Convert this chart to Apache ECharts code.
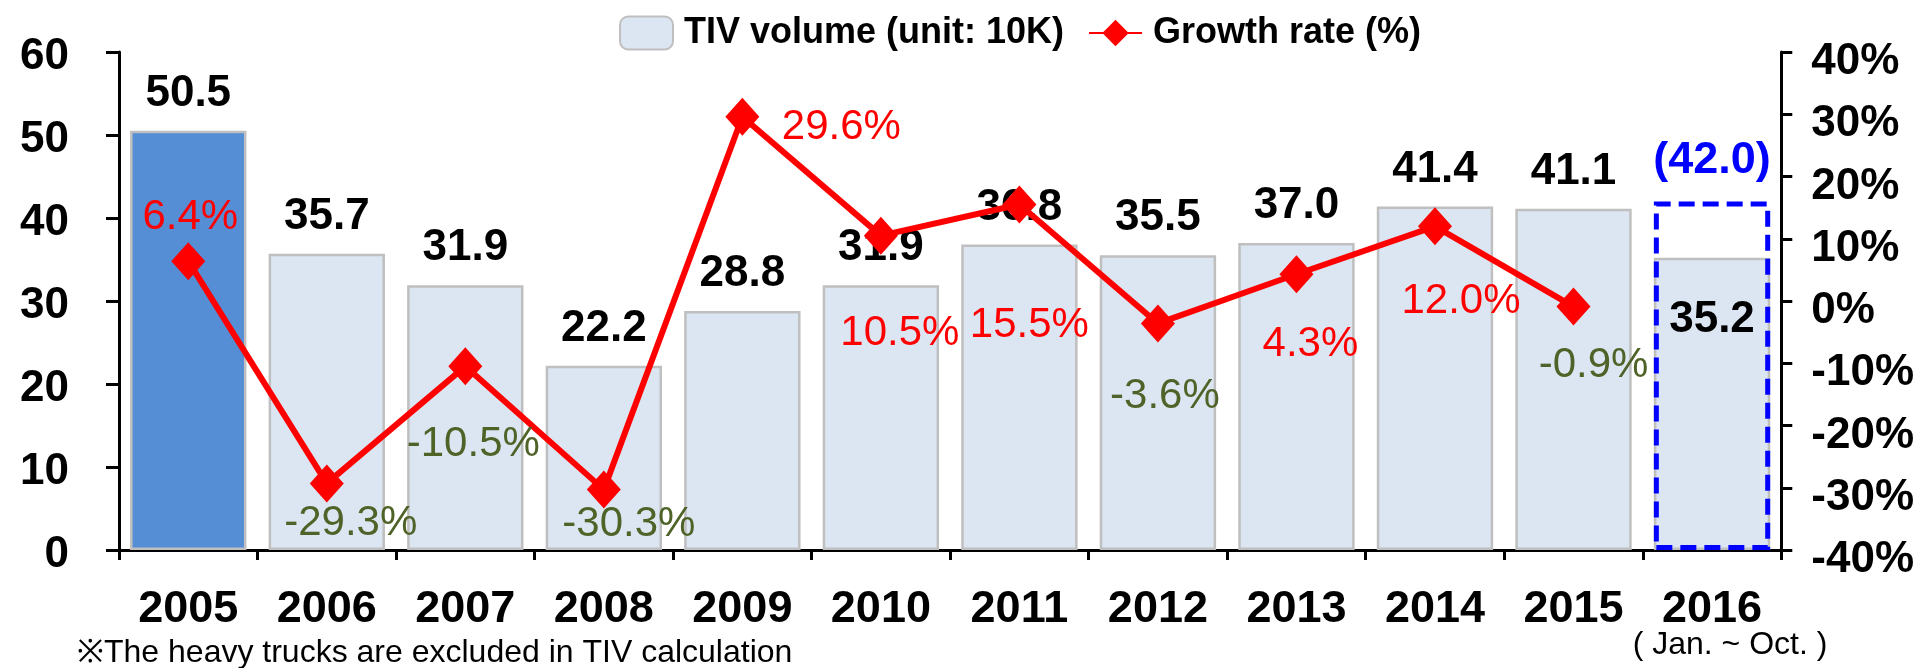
<!DOCTYPE html>
<html>
<head>
<meta charset="utf-8">
<script src="https://cdn.jsdelivr.net/npm/echarts@6/dist/echarts.min.js"></script>
<style>
  html, body { margin: 0; padding: 0; background: #fff; }
  #chart { width: 1917px; height: 668px; }
</style>
</head>
<body>
<div id="chart"></div>
<script>
// data
const years = ['2005', '2006', '2007', '2008', '2009', '2010', '2011', '2012', '2013', '2014', '2015', '2016'];
const tivVolume = [50.5, 35.7, 31.9, 22.2, 28.8, 31.9, 36.8, 35.5, 37.0, 41.4, 41.1, 35.2];
const growthRate = [6.4, -29.3, -10.5, -30.3, 29.6, 10.5, 15.5, -3.6, 4.3, 12.0, -0.9, null];
const forecast = [null, null, null, null, null, null, null, null, null, null, null, 42.0];
const leftTicks = { min: 0, max: 60, interval: 10 };
const rightTicks = { min: -40, max: 40, interval: 10 };

// label placement around each marker (dx, dy in px)
const growthLabelOffset = [
  [2, -44], [24, 40], [8, 78], [25, 35], [99, 11], [19, 98],
  [10, 121], [7, 73], [14, 70], [26, 75], [20, 59], [0, 0]
];

const FONT = '"Liberation Sans", Arial, sans-serif';
const GREEN = '#4f6228';

const chart = echarts.init(document.getElementById('chart'));

const barData = tivVolume.map((v, i) => {
  const item = { value: v };
  if (i === 0) item.itemStyle = { color: '#558ed5' };
  if (i === years.length - 1) {
    item.label = { position: 'insideTop', distance: 40 };
  }
  return item;
});

const lineData = growthRate.map((v, i) => ({
  value: v,
  label: {
    offset: growthLabelOffset[i],
    color: v < 0 ? GREEN : '#ff0000'
  }
}));

chart.setOption({
  animation: false,
  textStyle: { fontFamily: FONT },
  grid: { left: 119, right: 122, top: 52, bottom: 118 },
  legend: {
    data: ['TIV volume (unit: 10K)', 'Growth rate (%)'],
    left: 614,
    top: 10,
    itemWidth: 53,
    itemHeight: 33,
    itemGap: 24,
    textStyle: { fontSize: 36, fontWeight: 'bold', color: '#000', fontFamily: FONT, padding: [0, 0, 0, 6] }
  },
  title: {
    text: '※The heavy trucks are excluded in TIV calculation',
    left: 72,
    top: 632,
    textStyle: { fontSize: 32, fontWeight: 'normal', color: '#000', fontFamily: FONT }
  },
  xAxis: {
    type: 'category',
    data: years,
    axisLine: { lineStyle: { color: '#000', width: 3 } },
    axisTick: { show: true, interval: 0, length: 10, lineStyle: { color: '#000', width: 3 } },
    axisLabel: {
      interval: 0,
      margin: 40,
      fontSize: 45,
      fontWeight: 'bold',
      color: '#000',
      lineHeight: 40,
      formatter: (v) => v === '2016' ? '{y|2016}\n{s|( Jan. ~ Oct. )}' : v,
      rich: {
        y: { fontSize: 45, fontWeight: 'bold', color: '#000', lineHeight: 40, fontFamily: FONT },
        s: { fontSize: 32, fontWeight: 'normal', color: '#000', lineHeight: 30, fontFamily: FONT, padding: [0, 0, 0, 36] }
      }
    }
  },
  yAxis: [
    {
      type: 'value',
      min: leftTicks.min, max: leftTicks.max, interval: leftTicks.interval,
      splitLine: { show: false },
      axisLine: { show: true, lineStyle: { color: '#000', width: 3 } },
      axisTick: { show: true, length: 13, lineStyle: { color: '#000', width: 3 } },
      axisLabel: { margin: 50, fontSize: 44, fontWeight: 'bold', color: '#000', verticalAlign: 'top', lineHeight: 10 }
    },
    {
      type: 'value',
      min: rightTicks.min, max: rightTicks.max, interval: rightTicks.interval,
      splitLine: { show: false },
      axisLine: { show: true, lineStyle: { color: '#000', width: 3 } },
      axisTick: { show: true, length: 11, lineStyle: { color: '#000', width: 3 } },
      axisLabel: { margin: 30, fontSize: 44, fontWeight: 'bold', color: '#000', verticalAlign: 'top', lineHeight: 20, formatter: '{value}%' }
    }
  ],
  series: [
    {
      name: 'TIV volume (unit: 10K)',
      type: 'bar',
      data: barData,
      barCategoryGap: '16%',
      itemStyle: { color: '#dce6f2', borderColor: '#bfbfbf', borderWidth: 2.5 },
      label: {
        show: true,
        position: 'top',
        distance: 15,
        fontSize: 44,
        fontWeight: 'bold',
        color: '#000',
        formatter: (p) => p.value.toFixed(1)
      },
      z: 1
    },
    {
      name: 'Forecast',
      type: 'bar',
      data: forecast,
      barGap: '-100%',
      itemStyle: { color: 'rgba(0,0,0,0)', borderColor: '#0000ff', borderWidth: 5, borderType: [16, 8] },
      label: {
        show: true,
        position: 'top',
        distance: 18,
        fontSize: 45,
        fontWeight: 'bold',
        color: '#0000ff',
        formatter: (p) => '(' + p.value.toFixed(1) + ')'
      },
      z: 2
    },
    {
      name: 'Growth rate (%)',
      type: 'line',
      yAxisIndex: 1,
      data: lineData,
      symbol: 'diamond',
      symbolSize: [34, 38],
      itemStyle: { color: '#ff0000' },
      lineStyle: { color: '#ff0000', width: 6 },
      label: {
        show: true,
        position: 'inside',
        fontSize: 42,
        formatter: (p) => p.value.toFixed(1) + '%'
      },
      z: 5
    }
  ]
});
</script>
</body>
</html>
